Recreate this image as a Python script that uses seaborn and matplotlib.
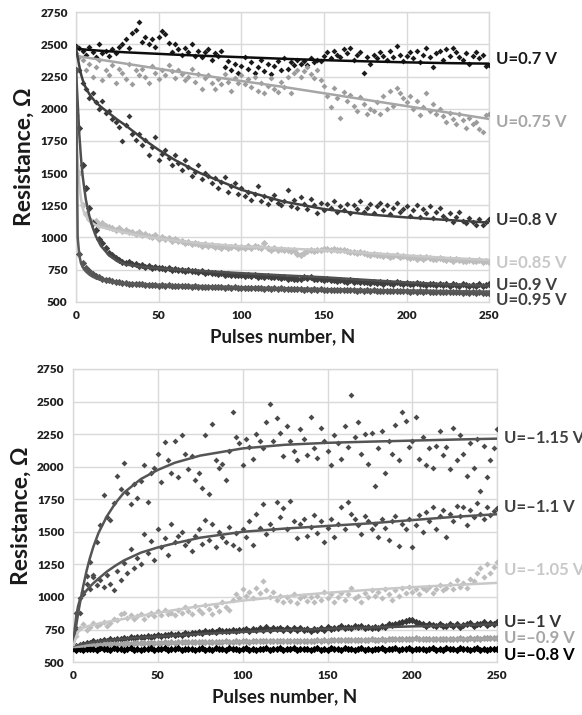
import numpy as np
import matplotlib
matplotlib.use("Agg")
import matplotlib.pyplot as plt
import seaborn as sns

# pulses (x) for measured points and for fitted curves
pulses = np.arange(0, 251, 2)
fit_pulses = [0, 1, 2, 3, 4, 5, 6, 8, 10, 12, 15, 20, 25, 30, 40, 50, 60, 75, 100, 125, 150, 175, 200, 225, 250]

# ---------- top panel: positive pulses ----------
pos_07 = [2490, 2470, 2450, 2420, 2480, 2440, 2400, 2500, 2430, 2450,
          2410, 2460, 2430, 2480, 2500, 2540, 2470, 2590, 2610, 2670,
          2520, 2560, 2500, 2540, 2480, 2560, 2600, 2580, 2510, 2440,
          2500, 2460, 2420, 2470, 2440, 2500, 2410, 2450, 2400, 2440,
          2460, 2380, 2430, 2410, 2450, 2320, 2370, 2300, 2350, 2280,
          2330, 2400, 2310, 2360, 2280, 2320, 2380, 2290, 2350, 2270,
          2330, 2370, 2300, 2390, 2310, 2360, 2340, 2380, 2350, 2370,
          2340, 2390, 2360, 2380, 2370, 2410, 2440, 2390, 2450, 2420,
          2400, 2460, 2430, 2470, 2380, 2420, 2440, 2280, 2400, 2350,
          2420, 2390, 2440, 2410, 2380, 2450, 2400, 2490, 2420, 2370,
          2410, 2440, 2390, 2450, 2360, 2420, 2470, 2400, 2320, 2430,
          2450, 2380, 2460, 2410, 2470, 2440, 2400, 2380, 2430, 2350,
          2410, 2440, 2390, 2420, 2330, 2340]
pos_075 = [2430, 2400, 2380, 2300, 2350, 2250, 2320, 2380, 2220, 2300,
           2260, 2340, 2200, 2310, 2280, 2230, 2350, 2190, 2300, 2260,
           2310, 2250, 2200, 2330, 2280, 2230, 2300, 2260, 2340, 2290,
           2240, 2300, 2270, 2220, 2250, 2310, 2210, 2270, 2150, 2240,
           2260, 2200, 2150, 2230, 2190, 2270, 2210, 2140, 2240, 2200,
           2260, 2190, 2230, 2170, 2250, 2140, 2200, 2120, 2180, 2240,
           2150, 2130, 2210, 2170, 2250, 2120, 2280, 2300, 2250, 2290,
           2320, 2270, 2240, 2300, 2220, 2180, 2100, 2010, 2160, 2080,
           1930, 2130, 2060, 2110, 2020, 1980, 2090, 2040, 1960, 2000,
           1980, 2050, 1960, 2100, 2000, 2140, 2020, 2160, 2120, 2080,
           2050, 2100, 2000, 2060, 1950, 2010, 2120, 1980, 2040, 1960,
           2000, 1940, 1900, 1970, 1920, 1880, 1960, 1910, 1850, 1930,
           1880, 1900, 1840, 1820, 1950, 1960]
pos_08 = [2480, 2300, 2200, 2150, 2080, 2120, 2050, 2000, 2060, 1970,
          1980, 1920, 1900, 1860, 1750, 1870, 1940, 1800, 1760, 1800,
          1720, 1760, 1640, 1700, 1780, 1600, 1650, 1680, 1620, 1560,
          1640, 1580, 1520, 1600, 1550, 1480, 1510, 1560, 1450, 1500,
          1480, 1420, 1460, 1380, 1430, 1470, 1350, 1400, 1420, 1340,
          1380, 1320, 1350, 1290, 1340, 1400, 1280, 1320, 1260, 1300,
          1330, 1270, 1250, 1280, 1370, 1240, 1290, 1230, 1310, 1260,
          1220, 1300, 1250, 1190, 1270, 1210, 1260, 1230, 1280, 1200,
          1240, 1210, 1260, 1190, 1250, 1220, 1280, 1200, 1230, 1260,
          1190, 1240, 1270, 1210, 1250, 1180, 1230, 1270, 1200, 1220,
          1240, 1170, 1210, 1250, 1160, 1220, 1190, 1240, 1150, 1200,
          1230, 1170, 1140, 1190, 1120, 1160, 1200, 1130, 1110, 1150,
          1120, 1100, 1140, 1100, 1120, 1140]
pos_085 = [1950, 1500, 1250, 1180, 1140, 1120, 1130, 1100, 1110, 1090,
           1080, 1070, 1060, 1075, 1050, 1060, 1040, 1045, 1030, 1040,
           1020, 1030, 1010, 1000, 1015, 990, 1000, 985, 995, 975,
           985, 970, 975, 960, 965, 950, 960, 945, 935, 945,
           930, 940, 925, 935, 920, 930, 915, 925, 930, 920,
           925, 915, 930, 920, 935, 925, 920, 960, 915, 900,
           915, 905, 910, 900, 905, 895, 900, 870, 860, 880,
           895, 900, 895, 905, 900, 910, 912, 905, 908, 900,
           900, 905, 895, 890, 885, 880, 890, 875, 870, 865,
           870, 860, 865, 855, 860, 850, 855, 860, 845, 855,
           850, 840, 845, 835, 850, 830, 845, 840, 830, 835,
           840, 830, 825, 835, 820, 830, 825, 815, 820, 825,
           820, 815, 825, 810, 815, 805]
pos_09 = [2300, 1850, 1560, 1380, 1230, 1110, 1060, 990, 960, 920,
          880, 860, 840, 825, 810, 800, 805, 790, 795, 780,
          785, 770, 775, 765, 770, 760, 765, 755, 760, 750,
          755, 745, 750, 740, 745, 735, 740, 730, 735, 725,
          730, 720, 725, 715, 720, 710, 715, 710, 705, 710,
          705, 700, 710, 700, 705, 695, 700, 690, 700, 695,
          690, 695, 685, 690, 680, 685, 680, 675, 680, 690,
          685, 690, 680, 675, 680, 670, 675, 665, 670, 660,
          665, 660, 655, 665, 650, 660, 655, 650, 655, 645,
          650, 645, 655, 640, 650, 645, 640, 650, 645, 640,
          645, 635, 640, 645, 635, 640, 630, 640, 635, 630,
          635, 630, 640, 625, 635, 630, 625, 635, 630, 625,
          630, 625, 635, 620, 630, 640]
pos_095 = [2300, 870, 800, 760, 735, 715, 700, 690, 680, 672,
           665, 660, 655, 651, 646, 645, 641, 640, 637, 636,
           634, 631, 633, 628, 630, 626, 629, 624, 627, 622,
           625, 620, 623, 619, 621, 616, 620, 615, 618, 614,
           617, 612, 615, 611, 614, 609, 612, 608, 611, 607,
           610, 605, 609, 604, 607, 603, 606, 602, 605, 601,
           604, 600, 603, 598, 602, 597, 600, 596, 599, 595,
           598, 594, 597, 593, 596, 592, 595, 591, 594, 590,
           593, 589, 592, 588, 591, 587, 590, 586, 589, 585,
           588, 584, 587, 583, 586, 582, 585, 581, 584, 580,
           583, 579, 582, 578, 581, 577, 580, 576, 579, 575,
           578, 574, 577, 573, 576, 572, 575, 571, 574, 570,
           573, 569, 572, 568, 571, 570]

fit_07 = [2465, 2464, 2463, 2462, 2461, 2460, 2459, 2457, 2455, 2453, 2450, 2446, 2442,
          2438, 2432, 2426, 2420, 2412, 2400, 2388, 2377, 2368, 2360, 2354, 2350]
fit_075 = [2410, 2408, 2406, 2404, 2402, 2400, 2398, 2394, 2390, 2386, 2380, 2370, 2360,
           2350, 2330, 2310, 2290, 2262, 2215, 2170, 2120, 2070, 2020, 1970, 1920]
fit_08 = [2470, 2400, 2330, 2270, 2225, 2190, 2160, 2115, 2080, 2050, 2015, 1965, 1915,
          1870, 1770, 1680, 1600, 1500, 1370, 1280, 1220, 1180, 1155, 1135, 1115]
fit_085 = [1850, 1600, 1420, 1300, 1230, 1190, 1165, 1130, 1110, 1095, 1080, 1065, 1050,
           1035, 1010, 990, 975, 955, 930, 915, 900, 880, 860, 840, 825]
fit_09 = [2300, 2050, 1800, 1620, 1480, 1380, 1290, 1170, 1080, 1010, 935, 860, 815,
          790, 770, 760, 752, 740, 722, 705, 690, 670, 650, 635, 625]
fit_095 = [2300, 1000, 860, 800, 770, 750, 735, 712, 695, 683, 670, 657, 650,
           644, 637, 632, 628, 622, 613, 605, 598, 592, 587, 582, 578]

# ---------- bottom panel: negative pulses ----------
neg_115 = [600, 760, 880, 1020, 1160, 1270, 1170, 1420, 1550, 1780,
           1610, 1590, 1720, 1930, 1830, 2030, 1800, 1710, 1870, 1760,
           1890, 2010, 1730, 1950, 1990, 2100, 1880, 2190, 2050, 1950,
           2200, 1920, 2240, 2100, 1980, 2080, 1900, 1950, 1840, 2240,
           1790, 2330, 2050, 1990, 2020, 1900, 2120, 2420, 2230, 2180,
           2010, 2210, 2150, 2060, 2250, 2200, 2140, 2340, 2480, 2200,
           2370, 2260, 2080, 2310, 2200, 2120, 2050, 2290, 2210, 2090,
           2380, 2140, 2070, 2300, 2200, 2120, 2010, 2240, 2180, 2060,
           2310, 2150, 2550, 2230, 2340, 2100, 2250, 2020, 2260, 1850,
           2140, 2270, 1950, 2200, 2100, 2320, 2050, 2420, 2350, 2150,
           2200, 2380, 2060, 2230, 2010, 2140, 1990, 2160, 2270, 2090,
           2150, 1980, 2300, 2050, 2240, 2100, 1930, 2180, 1990, 2210,
           1810, 2160, 1920, 2050, 2140, 2290]
neg_11 = [600, 880, 990, 1040, 1100, 1060, 1150, 1090, 1130, 1080,
          1170, 1100, 1050, 1200, 1130, 1260, 1180, 1370, 1220, 1300,
          1250, 1480, 1340, 1430, 1280, 1520, 1380, 1450, 1320, 1560,
          1420, 1470, 1500, 1400, 1430, 1350, 1470, 1520, 1410, 1590,
          1440, 1560, 1380, 1500, 1460, 1420, 1540, 1400, 1490, 1370,
          1520, 1460, 1580, 1400, 1640, 1530, 1710, 1480, 1560, 1520,
          1730, 1610, 1680, 1520, 1740, 1580, 1450, 1560, 1600, 1470,
          1540, 1630, 1490, 1580, 1420, 1530, 1600, 1460, 1560, 1690,
          1520, 1730, 1640, 1600, 1550, 1480, 1620, 1580, 1520, 1560,
          1460, 1600, 1530, 1440, 1580, 1620, 1390, 1560, 1520, 1600,
          1380, 1550, 1630, 1500, 1650, 1580, 1690, 1520, 1620, 1670,
          1460, 1640, 1580, 1700, 1620, 1690, 1550, 1670, 1610, 1720,
          1640, 1600, 1690, 1630, 1660, 1680]
neg_105 = [600, 700, 760, 790, 750, 770, 800, 780, 790, 810,
           780, 800, 830, 820, 870, 880, 840, 860, 830, 850,
           870, 830, 860, 880, 850, 890, 860, 900, 870, 880,
           860, 900, 880, 920, 890, 870, 930, 900, 880, 940,
           910, 870, 930, 890, 960, 920, 900, 980, 1020, 990,
           1060, 1010, 1040, 990, 1070, 1030, 1120, 1050, 1000, 1040,
           980, 1010, 960, 1000, 970, 1020, 950, 990, 1010, 970,
           1000, 960, 1010, 980, 1040, 990, 1020, 960, 1000, 1030,
           980, 1020, 1070, 990, 1010, 960, 1030, 1000, 1050, 1010,
           1040, 990, 1060, 1020, 980, 1050, 1010, 1070, 1030, 1080,
           1040, 1060, 1020, 1070, 1050, 1080, 1030, 1060, 1090, 1050,
           1070, 1100, 1060, 1130, 1080, 1110, 1070, 1140, 1120, 1180,
           1220, 1150, 1250, 1180, 1230, 1270]
neg_10 = [610, 625, 630, 640, 645, 650, 660, 655, 665, 670,
          665, 675, 670, 680, 675, 685, 680, 690, 685, 690,
          695, 690, 700, 695, 700, 705, 700, 710, 705, 712,
          708, 715, 710, 720, 715, 725, 720, 730, 725, 735,
          730, 738, 732, 745, 735, 742, 738, 750, 740, 748,
          745, 752, 740, 755, 748, 760, 745, 770, 750, 762,
          755, 765, 750, 760, 745, 758, 750, 762, 748, 755,
          740, 752, 745, 758, 750, 770, 755, 762, 758, 775,
          765, 770, 760, 780, 768, 775, 762, 772, 760, 770,
          765, 780, 770, 790, 785, 795, 800, 805, 815, 825,
          820, 810, 800, 790, 780, 795, 785, 775, 790, 780,
          775, 790, 780, 795, 770, 785, 790, 800, 780, 795,
          790, 805, 785, 800, 790, 810]
neg_09 = [610, 618, 622, 626, 628, 630, 632, 634, 633, 636,
          638, 636, 640, 638, 642, 640, 644, 642, 645, 643,
          646, 644, 648, 646, 650, 647, 649, 651, 648, 652,
          650, 653, 651, 655, 652, 654, 656, 653, 655, 657,
          654, 656, 658, 655, 657, 659, 656, 658, 660, 657,
          659, 661, 658, 660, 662, 659, 661, 663, 660, 662,
          660, 663, 661, 664, 662, 665, 663, 661, 664, 662,
          665, 663, 666, 664, 667, 665, 668, 666, 669, 667,
          670, 668, 671, 669, 672, 670, 673, 671, 674, 672,
          673, 675, 672, 676, 674, 677, 675, 678, 676, 679,
          680, 682, 678, 675, 677, 679, 676, 678, 680, 677,
          679, 681, 678, 680, 682, 679, 681, 683, 680, 682,
          681, 684, 682, 685, 683, 686]
neg_08 = [605, 596, 602, 594, 604, 597, 603, 595, 606, 598,
          601, 594, 605, 597, 603, 595, 600, 607, 596, 602,
          594, 604, 598, 606, 595, 601, 597, 605, 593, 602,
          598, 606, 595, 603, 597, 604, 594, 601, 607, 596,
          603, 595, 605, 598, 601, 594, 606, 597, 603, 595,
          600, 607, 596, 602, 594, 604, 598, 606, 595, 601,
          597, 605, 593, 602, 598, 606, 595, 603, 597, 604,
          594, 601, 607, 596, 603, 595, 605, 598, 601, 594,
          606, 597, 603, 595, 600, 607, 596, 602, 594, 604,
          598, 606, 595, 601, 597, 605, 593, 602, 598, 606,
          595, 603, 597, 604, 594, 601, 607, 596, 603, 595,
          605, 598, 601, 594, 606, 597, 603, 595, 600, 607,
          596, 602, 594, 604, 598, 603]

fit_115 = [600, 700, 790, 870, 945, 1015, 1080, 1200, 1300, 1385, 1490, 1620, 1720,
           1800, 1905, 1975, 2030, 2085, 2140, 2168, 2183, 2192, 2200, 2208, 2215]
fit_11 = [600, 750, 860, 930, 975, 1000, 1020, 1050, 1080, 1105, 1140, 1195, 1240,
          1280, 1340, 1380, 1412, 1455, 1500, 1525, 1545, 1565, 1590, 1615, 1635]
fit_105 = [600, 660, 700, 730, 745, 755, 762, 772, 780, 787, 795, 808, 820,
           832, 855, 878, 900, 930, 972, 1005, 1032, 1055, 1075, 1092, 1108]
fit_10 = [605, 615, 622, 628, 632, 636, 640, 645, 650, 654, 660, 667, 673,
          679, 688, 697, 705, 716, 732, 745, 756, 765, 774, 782, 790]
fit_09n = [605, 610, 613, 616, 618, 620, 622, 625, 627, 629, 631, 634, 636,
           638, 642, 645, 648, 651, 656, 660, 664, 668, 672, 676, 680]
fit_08n = [600, 600, 600, 600, 600, 600, 600, 600, 600, 600, 600, 600, 600,
           600, 600, 600, 600, 600, 600, 600, 600, 600, 600, 600, 600]

# label, label y, dots, fit, dot colour, line colour, label colour, marker size
top_series = [
    ("U=0.7 V", 2385, pos_07, fit_07, "#1a1a1a", "#0d0d0d", "#1a1a1a", 9),
    ("U=0.75 V", 1897, pos_075, fit_075, "#9c9c9c", "#a6a6a6", "#a6a6a6", 9),
    ("U=0.8 V", 1136, pos_08, fit_08, "#383838", "#404040", "#333333", 9),
    ("U=0.85 V", 803, pos_085, fit_085, "#bdbdbd", "#c8c8c8", "#c8c8c8", 14),
    ("U=0.9 V", 632, pos_09, fit_09, "#3f3f3f", "#505050", "#404040", 14),
    ("U=0.95 V", 516, pos_095, fit_095, "#555555", "#5a5a5a", "#404040", 14),
]
bottom_series = [
    ("U=\u20131.15 V", 2220, neg_115, fit_115, "#4a4a4a", "#555555", "#404040", 9),
    ("U=\u20131.1 V", 1690, neg_11, fit_11, "#4a4a4a", "#555555", "#404040", 9),
    ("U=\u20131.05 V", 1207, neg_105, fit_105, "#bdbdbd", "#c8c8c8", "#c8c8c8", 10),
    ("U=\u20131 V", 807, neg_10, fit_10, "#383838", "#4d4d4d", "#333333", 14),
    ("U=\u20130.9 V", 685, neg_09, fit_09n, "#a0a0a0", "#a6a6a6", "#a6a6a6", 14),
    ("U=\u20130.8 V", 554, neg_08, fit_08n, "#000000", "#000000", "#000000", 14),
]

sns.set_style("whitegrid")
plt.rcParams['font.family'] = ['Lato', 'DejaVu Sans']
plt.rcParams['font.weight'] = 'bold'

fig = plt.figure(figsize=(5.82, 7.15), dpi=100)
ax_top = fig.add_axes([0.1306, 0.578, 0.710, 0.405])
ax_bot = fig.add_axes([0.1254, 0.074, 0.729, 0.410])


def desenhar_painel(ax, series, x_label):
    for nome, y_lab, vals, fit, c_dot, c_line, c_lab, tam in series:
        sns.scatterplot(x=pulses, y=vals, ax=ax, color=c_dot, marker='D', s=tam,
                        linewidth=0, legend=False, zorder=3)
    for nome, y_lab, vals, fit, c_dot, c_line, c_lab, tam in series:
        sns.lineplot(x=fit_pulses, y=fit, ax=ax, color=c_line, linewidth=1.8,
                     estimator=None, sort=False, zorder=4)
        ax.text(254, y_lab, nome, color=c_lab, fontsize=12, fontweight='bold',
                va='center', ha='left', clip_on=False)
    ax.set_xlim(0, 250)
    ax.set_ylim(500, 2750)
    ax.set_xticks(range(0, 251, 50))
    ax.set_yticks(range(500, 2751, 250))
    ax.grid(True, color='#d9d9d9', linewidth=1.0)
    for sp in ax.spines.values():
        sp.set_color('#d9d9d9')
        sp.set_linewidth(1.0)
    ax.tick_params(length=0, labelsize=8.5, pad=6, colors='#1f1f1f')
    for t in ax.get_xticklabels() + ax.get_yticklabels():
        t.set_fontweight('heavy')
    ax.set_xlabel(x_label, fontsize=13.5, fontweight='bold', color='#1a1a1a', labelpad=5)
    ax.set_ylabel("Resistance, \u03a9", fontsize=16.5, fontweight='bold', color='#1a1a1a', labelpad=4)


desenhar_painel(ax_top, top_series, "Pulses number, N")
desenhar_painel(ax_bot, bottom_series, "Pulses number, N")

fig.savefig("out.png", dpi=100)
